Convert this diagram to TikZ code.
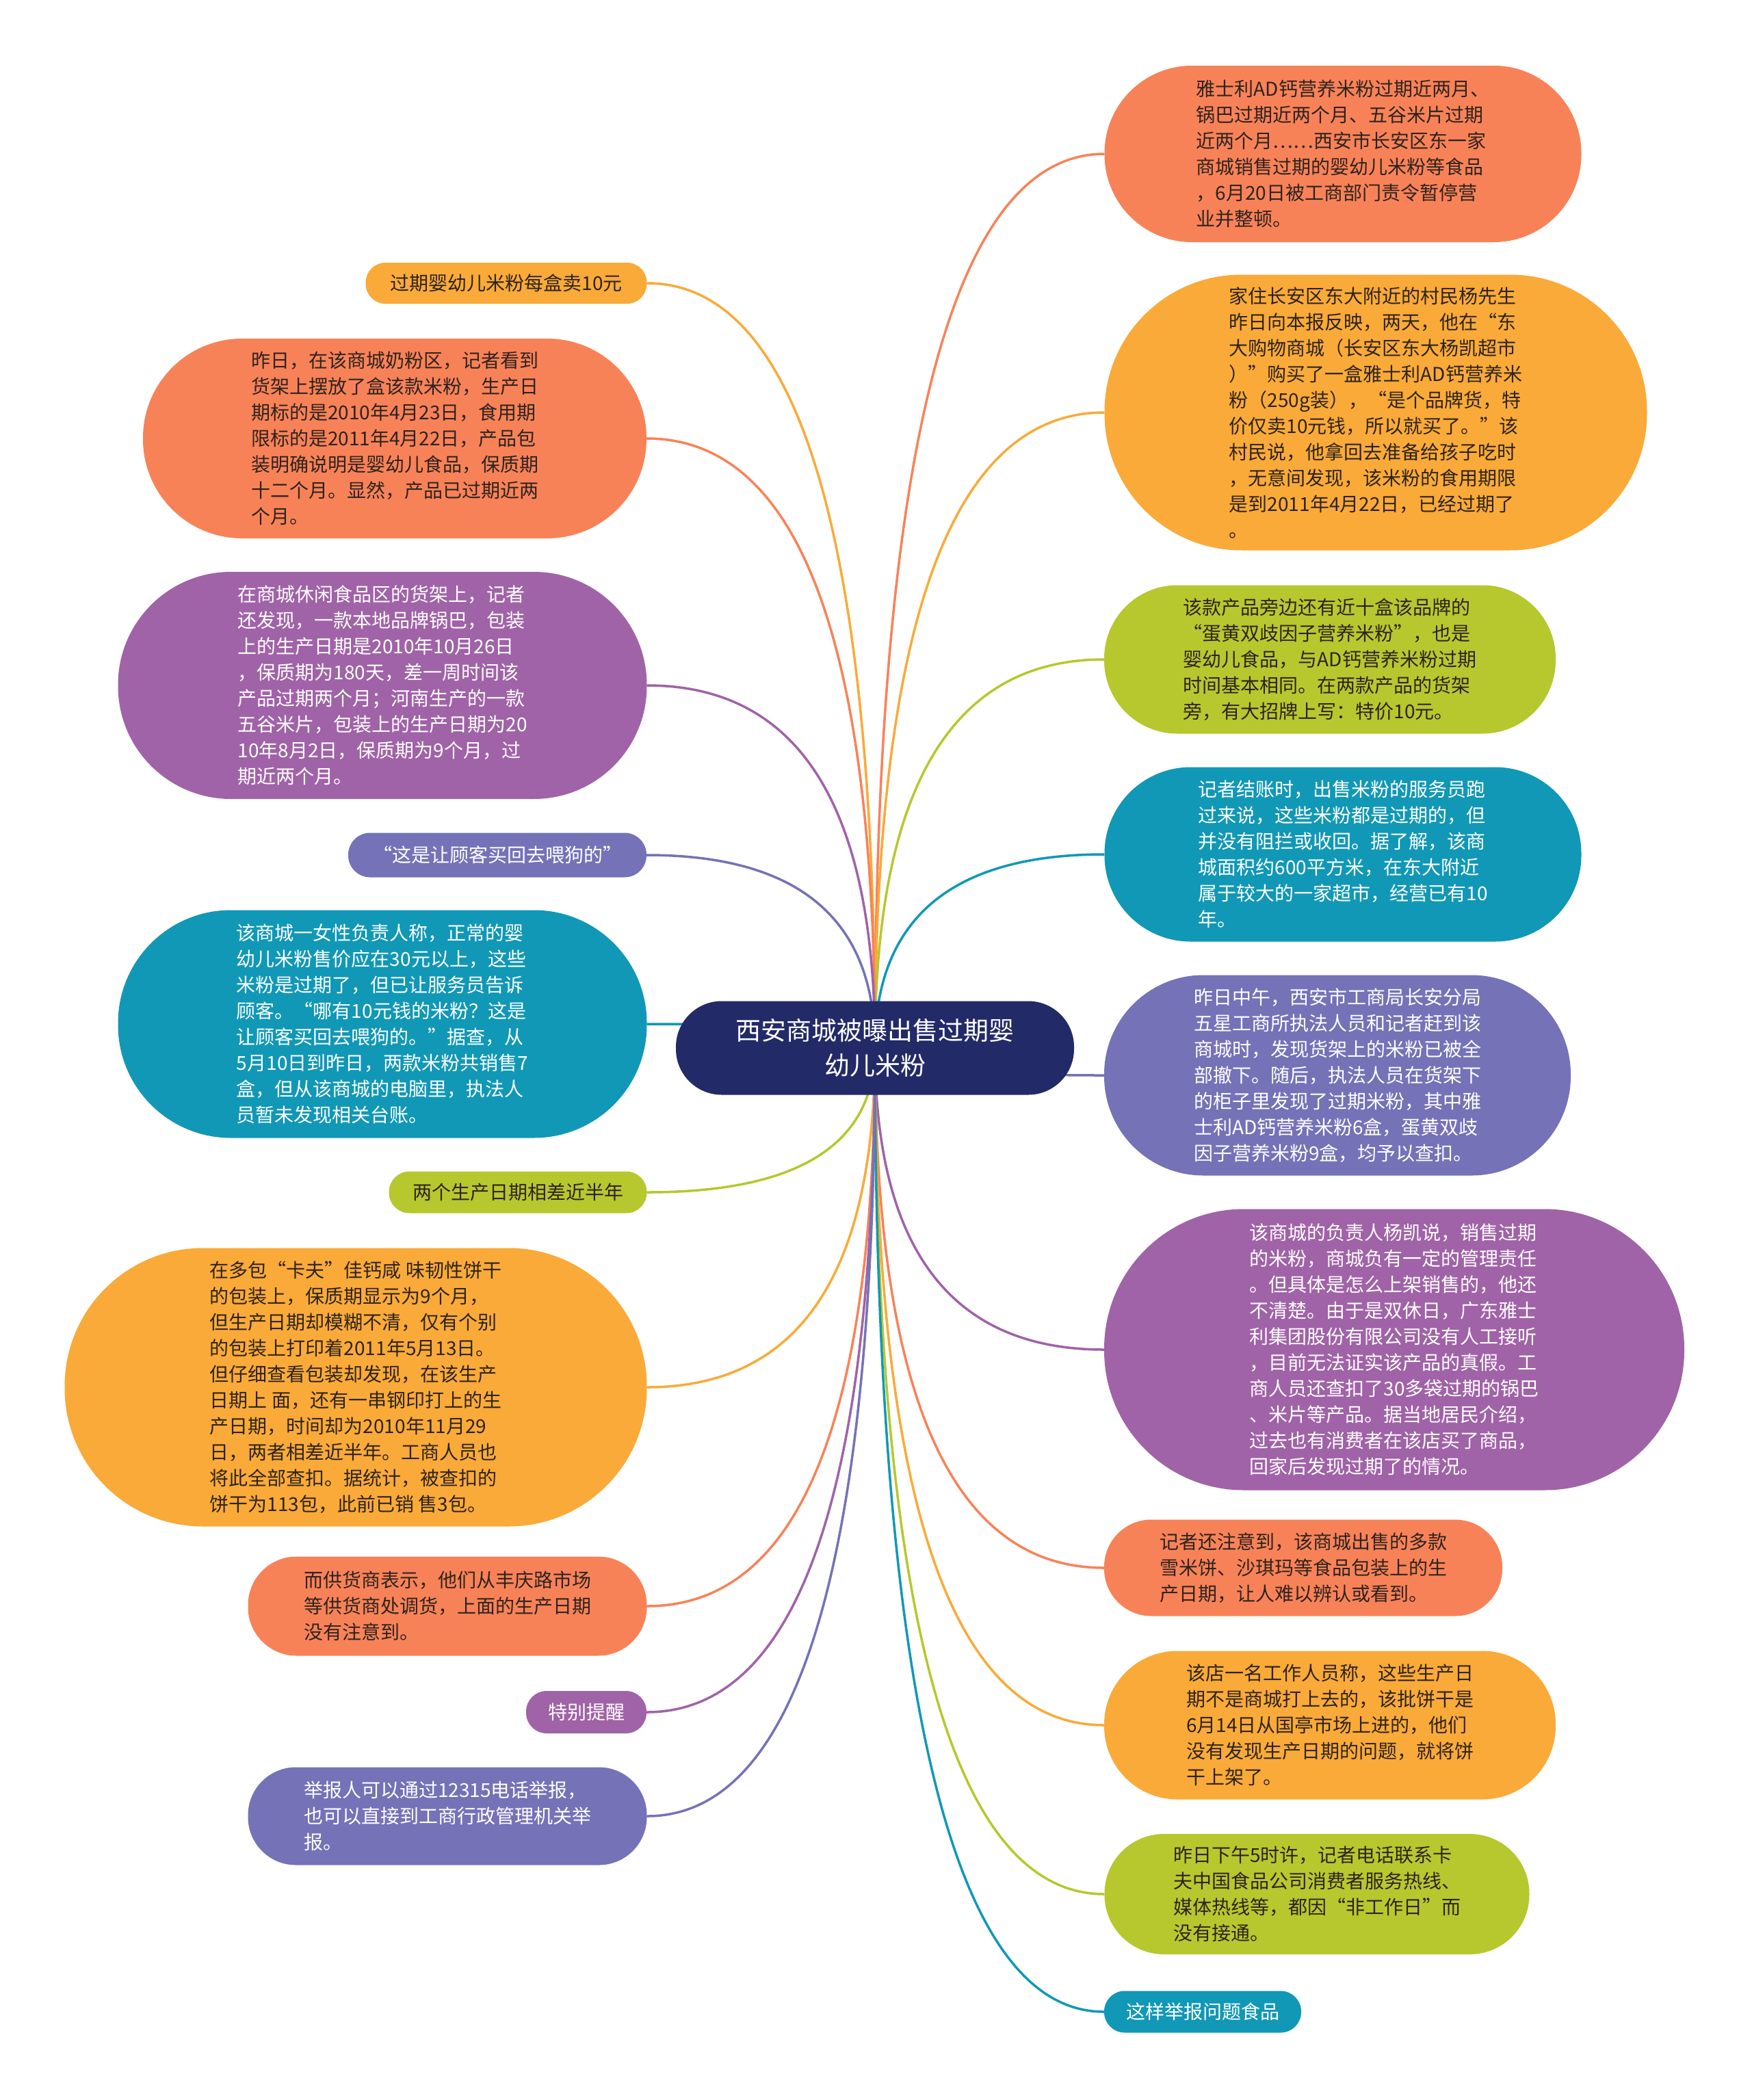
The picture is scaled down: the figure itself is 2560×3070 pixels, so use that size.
\documentclass[tikz,border=0pt]{standalone}
\usepackage{fontspec}
\setmainfont{Noto Sans CJK SC}
\usetikzlibrary{calc}
\definecolor{corange}{RGB}{248,130,88}
\definecolor{cyellow}{RGB}{250,170,56}
\definecolor{cgreen}{RGB}{182,200,46}
\definecolor{cteal}{RGB}{17,152,182}
\definecolor{cblue}{RGB}{117,114,184}
\definecolor{cpurple}{RGB}{160,99,167}
\definecolor{cnavy}{RGB}{35,42,104}
\definecolor{cdark}{RGB}{45,35,30}
\pgfdeclarelayer{bg}
\pgfsetlayers{bg,main}
\tikzset{
  leaf/.style={draw=none, align=left, inner sep=0pt, font=\fontsize{28}{38}\selectfont},
  box/.style n args={3}{minimum width=#1pt, minimum height=#2pt, rounded corners=#3pt},
  dk/.style={text=cdark},
  lt/.style={text=white},
  link/.style={line width=3.5pt}
}
\newcommand\brconn[2]{%
  \coordinate (kk) at (root.center |- #2);
  \draw[link, #1] (root.center) .. controls ($(root.center)!0.667!(kk)$) and ($(#2)!0.667!(kk)$) .. (#2);}
\begin{document}
\begin{tikzpicture}[x=1pt, y=-1pt]
\useasboundingbox (0,0) rectangle (2560,3070);
\begin{pgfonlayer}{bg}
\fill[white] (0,0) rectangle (2560,3070);
\end{pgfonlayer}

\node[box={582}{137}{67}, fill=cnavy, text=white, align=center, inner sep=0pt,
  font=\fontsize{37}{51}\selectfont] (root) at (1279,1532) {西安商城被曝出售过期婴\\幼儿米粉};

% right side
\node[leaf, box={697}{258}{128}, fill=corange, dk] (R1) at (1963,225) {雅士利AD钙营养米粉过期近两月、\\锅巴过期近两个月、五谷米片过期\\近两个月……西安市长安区东一家\\商城销售过期的婴幼儿米粉等食品\\，6月20日被工商部门责令暂停营\\业并整顿。};
\node[leaf, box={793}{403}{200}, fill=cyellow, dk] (R2) at (2011,603) {家住长安区东大附近的村民杨先生\\昨日向本报反映，两天，他在“东\\大购物商城（长安区东大杨凯超市\\）”购买了一盒雅士利AD钙营养米\\粉（250g装），“是个品牌货，特\\价仅卖10元钱，所以就买了。”该\\村民说，他拿回去准备给孩子吃时\\，无意间发现，该米粉的食用期限\\是到2011年4月22日，已经过期了\\。};
\node[leaf, box={660}{217}{107}, fill=cgreen, dk] (R3) at (1944,964) {该款产品旁边还有近十盒该品牌的\\“蛋黄双歧因子营养米粉”，也是\\婴幼儿食品，与AD钙营养米粉过期\\时间基本相同。在两款产品的货架\\旁，有大招牌上写：特价10元。};
\node[leaf, box={697}{255}{126}, fill=cteal, lt] (R4) at (1963,1249) {记者结账时，出售米粉的服务员跑\\过来说，这些米粉都是过期的，但\\并没有阻拦或收回。据了解，该商\\城面积约600平方米，在东大附近\\属于较大的一家超市，经营已有10\\年。};
\node[leaf, box={682}{293}{145}, fill=cblue, lt] (R5) at (1955,1572) {昨日中午，西安市工商局长安分局\\五星工商所执法人员和记者赶到该\\商城时，发现货架上的米粉已被全\\部撤下。随后，执法人员在货架下\\的柜子里发现了过期米粉，其中雅\\士利AD钙营养米粉6盒，蛋黄双歧\\因子营养米粉9盒，均予以查扣。};
\node[leaf, box={848}{411}{204}, fill=cpurple, lt] (R6) at (2038,1973) {该商城的负责人杨凯说，销售过期\\的米粉，商城负有一定的管理责任\\。但具体是怎么上架销售的，他还\\不清楚。由于是双休日，广东雅士\\利集团股份有限公司没有人工接听\\，目前无法证实该产品的真假。工\\商人员还查扣了30多袋过期的锅巴\\、米片等产品。据当地居民介绍，\\过去也有消费者在该店买了商品，\\回家后发现过期了的情况。};
\node[leaf, box={582}{141}{69}, fill=corange, dk] (R7) at (1905,2292) {记者还注意到，该商城出售的多款\\雪米饼、沙琪玛等食品包装上的生\\产日期，让人难以辨认或看到。};
\node[leaf, box={660}{217}{107}, fill=cyellow, dk] (R8) at (1944,2522) {该店一名工作人员称，这些生产日\\期不是商城打上去的，该批饼干是\\6月14日从国亭市场上进的，他们\\没有发现生产日期的问题，就将饼\\干上架了。};
\node[leaf, box={621}{176}{87}, fill=cgreen, dk] (R9) at (1925,2769) {昨日下午5时许，记者电话联系卡\\夫中国食品公司消费者服务热线、\\媒体热线等，都因“非工作日”而\\没有接通。};
\node[leaf, box={288}{61}{30}, fill=cteal, lt] (R10) at (1758,2941) {这样举报问题食品};

% left side
\node[leaf, box={411}{60}{29}, fill=cyellow, dk] (L1) at (740,414) {过期婴幼儿米粉每盒卖10元};
\node[leaf, box={736}{292}{145}, fill=corange, dk] (L2) at (577,641) {昨日，在该商城奶粉区，记者看到\\货架上摆放了盒该款米粉，生产日\\期标的是2010年4月23日，食用期\\限标的是2011年4月22日，产品包\\装明确说明是婴幼儿食品，保质期\\十二个月。显然，产品已过期近两\\个月。};
\node[leaf, box={773}{332}{165}, fill=cpurple, lt] (L3) at (559,1002) {在商城休闲食品区的货架上，记者\\还发现，一款本地品牌锅巴，包装\\上的生产日期是2010年10月26日\\，保质期为180天，差一周时间该\\产品过期两个月；河南生产的一款\\五谷米片，包装上的生产日期为20\\10年8月2日，保质期为9个月，过\\期近两个月。};
\node[leaf, box={436}{65}{32}, fill=cblue, lt] (L4) at (727,1250) {“这是让顾客买回去喂狗的”};
\node[leaf, box={773}{333}{165}, fill=cteal, lt] (L5) at (559,1497) {该商城一女性负责人称，正常的婴\\幼儿米粉售价应在30元以上，这些\\米粉是过期了，但已让服务员告诉\\顾客。“哪有10元钱的米粉？这是\\让顾客买回去喂狗的。”据查，从\\5月10日到昨日，两款米粉共销售7\\盒，但从该商城的电脑里，执法人\\员暂未发现相关台账。};
\node[leaf, box={377}{61}{30}, fill=cgreen, dk] (L6) at (757,1743) {两个生产日期相差近半年};
\node[leaf, box={851}{407}{202}, fill=cyellow, dk] (L7) at (520,2028) {在多包“卡夫”佳钙咸 味韧性饼干\\的包装上，保质期显示为9个月，\\但生产日期却模糊不清，仅有个别\\的包装上打印着2011年5月13日。\\但仔细查看包装却发现，在该生产\\日期上 面，还有一串钢印打上的生\\产日期，时间却为2010年11月29\\日，两者相差近半年。工商人员也\\将此全部查扣。据统计，被查扣的\\饼干为113包，此前已销 售3包。};
\node[leaf, box={583}{145}{71}, fill=corange, dk] (L8) at (654,2348) {而供货商表示，他们从丰庆路市场\\等供货商处调货，上面的生产日期\\没有注意到。};
\node[leaf, box={176}{62}{30}, fill=cpurple, lt] (L9) at (857,2503) {特别提醒};
\node[leaf, box={583}{143}{70}, fill=cblue, lt] (L10) at (654,2655) {举报人可以通过12315电话举报，\\也可以直接到工商行政管理机关举\\报。};

\begin{pgfonlayer}{bg}
\brconn{corange}{R1.west}
\brconn{cyellow}{R2.west}
\brconn{cgreen}{R3.west}
\brconn{cteal}{R4.west}
\brconn{cblue}{R5.west}
\brconn{cpurple}{R6.west}
\brconn{corange}{R7.west}
\brconn{cyellow}{R8.west}
\brconn{cgreen}{R9.west}
\brconn{cteal}{R10.west}
\brconn{cyellow}{L1.east}
\brconn{corange}{L2.east}
\brconn{cpurple}{L3.east}
\brconn{cblue}{L4.east}
\brconn{cteal}{L5.east}
\brconn{cgreen}{L6.east}
\brconn{cyellow}{L7.east}
\brconn{corange}{L8.east}
\brconn{cpurple}{L9.east}
\brconn{cblue}{L10.east}
\end{pgfonlayer}
\end{tikzpicture}
\end{document}
